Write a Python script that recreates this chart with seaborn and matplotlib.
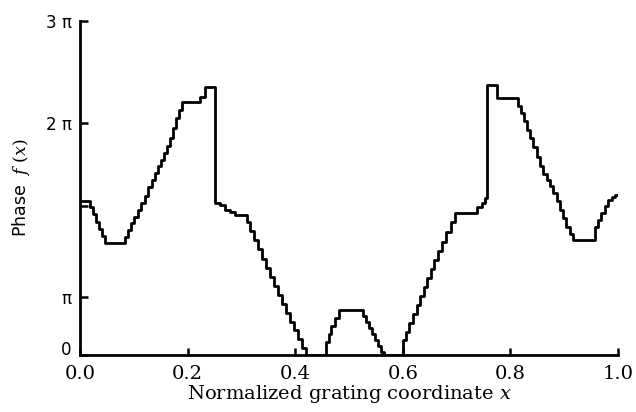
import matplotlib
matplotlib.use("Agg")
import matplotlib.pyplot as plt
import matplotlib.transforms as mtransforms
import seaborn as sns
import pandas as pd

# Normalized grating coordinate (breakpoints of the staircase)
x_coord = [0.000, 0.019, 0.024, 0.030, 0.035, 0.041, 0.046, 0.084, 0.089, 0.095,
           0.100, 0.108, 0.113, 0.121, 0.126, 0.134, 0.139, 0.145, 0.151, 0.156,
           0.162, 0.167, 0.173, 0.178, 0.184, 0.190, 0.223, 0.232, 0.251, 0.260,
           0.270, 0.279, 0.288, 0.310, 0.316, 0.323, 0.331, 0.338, 0.346, 0.353,
           0.361, 0.368, 0.375, 0.383, 0.390, 0.398, 0.405, 0.413, 0.420, 0.457,
           0.462, 0.467, 0.474, 0.481, 0.526, 0.532, 0.537, 0.543, 0.548, 0.554,
           0.560, 0.565, 0.600, 0.606, 0.612, 0.619, 0.626, 0.632, 0.639, 0.645,
           0.652, 0.658, 0.665, 0.672, 0.680, 0.689, 0.697, 0.738, 0.747, 0.752,
           0.757, 0.775, 0.814, 0.820, 0.825, 0.831, 0.836, 0.842, 0.849, 0.855,
           0.861, 0.868, 0.874, 0.879, 0.887, 0.892, 0.898, 0.903, 0.911, 0.916,
           0.957, 0.963, 0.968, 0.976, 0.981, 0.989, 0.994, 1.000]

# Phase f(x) in units of pi
phase_pi = [1.383, 1.329, 1.266, 1.195, 1.132, 1.069, 1.006, 1.060, 1.123, 1.186,
            1.240, 1.302, 1.365, 1.428, 1.509, 1.572, 1.635, 1.698, 1.751, 1.814,
            1.877, 1.949, 2.039, 2.129, 2.201, 2.272, 2.317, 2.407, 1.365, 1.347,
            1.302, 1.284, 1.257, 1.195, 1.114, 1.033, 0.952, 0.862, 0.781, 0.701,
            0.620, 0.539, 0.458, 0.377, 0.296, 0.225, 0.144, 0.063, 0.000, 0.117,
            0.189, 0.260, 0.332, 0.404, 0.350, 0.296, 0.243, 0.189, 0.135, 0.081,
            0.027, 0.000, 0.135, 0.207, 0.287, 0.368, 0.449, 0.530, 0.611, 0.692,
            0.772, 0.853, 0.934, 1.015, 1.105, 1.195, 1.275, 1.329, 1.365, 1.410,
            2.425, 2.308, 2.236, 2.174, 2.102, 2.021, 1.949, 1.868, 1.778, 1.698,
            1.626, 1.572, 1.518, 1.455, 1.383, 1.302, 1.231, 1.150, 1.087, 1.033,
            1.150, 1.213, 1.275, 1.338, 1.392, 1.419, 1.437, 1.437]

# Axis ticks as they appear in the figure
x_ticks = [0.0, 0.2, 0.4, 0.6, 0.8, 1.0]
x_tick_labels = ["0.0", "0.2", "0.4", "0.6", "0.8", "1.0"]
y_ticks = [0.0, 0.521, 1.338, 2.084, 3.0]
y_tick_labels = ["0", "π", "", "2 π", "3 π"]

df = pd.DataFrame({"x": x_coord, "phase": phase_pi})

sns.set_style("ticks")
plt.rcParams["mathtext.fontset"] = "dejavuserif"

fig = plt.figure(figsize=(6.36, 4.12), dpi=100)
ax = fig.add_axes([80 / 636, 1 - 355 / 412, (618 - 80) / 636, (355 - 21) / 412])

sns.lineplot(data=df, x="x", y="phase", ax=ax, estimator=None, sort=False,
             drawstyle="steps-post", color="black", linewidth=2.0)

ax.set_xlim(0, 1)
ax.set_ylim(0, 3)
ax.set_xticks(x_ticks)
ax.set_xticklabels(x_tick_labels, fontfamily="DejaVu Serif", fontsize=14)
ax.set_yticks(y_ticks)
ax.set_yticklabels(y_tick_labels, fontfamily="DejaVu Sans", fontsize=12)

for side in ["top", "right"]:
    ax.spines[side].set_visible(False)
for side in ["left", "bottom"]:
    ax.spines[side].set_linewidth(2.0)
    ax.spines[side].set_color("black")

ax.tick_params(axis="x", direction="in", length=5, width=1.8, pad=7, colors="black")
ax.tick_params(axis="y", direction="in", length=6, width=1.8, pad=6, colors="black")

# lift the "0" label slightly, as in the original
zero_label = ax.get_yticklabels()[0]
zero_label.set_transform(zero_label.get_transform() +
                         mtransforms.ScaledTranslation(0, 5 / 72, fig.dpi_scale_trans))

ax.set_xlabel("Normalized grating coordinate $x$", fontfamily="DejaVu Serif",
              fontsize=14, labelpad=0, color="black")
ax.set_ylabel("Phase  $f$ $(x)$", fontfamily="DejaVu Sans", fontsize=12.5,
              labelpad=10, color="black")

fig.savefig("out.png", dpi=100, facecolor="white")
